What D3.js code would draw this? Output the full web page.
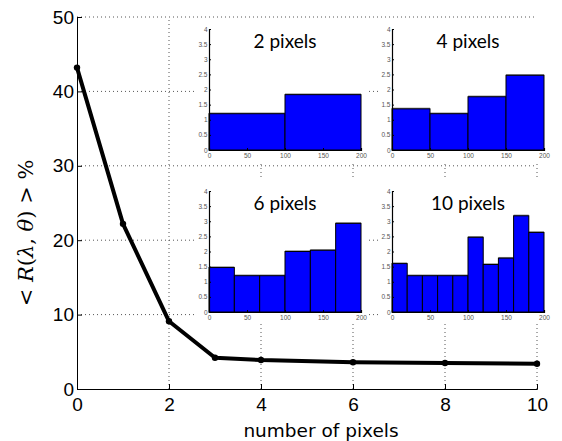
<!DOCTYPE html>
<html>
<head>
<meta charset="utf-8">
<script src="https://cdn.jsdelivr.net/npm/d3@7"></script>
<style>
  body { margin: 0; background: #fff; }
  svg { display: block; }
  .main-tick text { font-family: "Liberation Sans", Arial, sans-serif; font-size: 19px; fill: #000; }
  .inset-tick text { font-family: "Liberation Sans", Arial, sans-serif; font-size: 6.5px; fill: #555; }
</style>
</head>
<body>
<svg id="chart" width="562" height="441"></svg>
<script>
// main curve
var pixelCounts = [0, 1, 2, 3, 4, 6, 8, 10];
var meanR = [43.2, 22.2, 9.1, 4.2, 3.9, 3.6, 3.5, 3.4];
var xTicks = [0, 2, 4, 6, 8, 10];
var yTicks = [0, 10, 20, 30, 40, 50];

// inset histograms (range 0..200)
var hist2 = [1.2, 1.83];
var hist4 = [1.36, 1.2, 1.76, 2.47];
var hist6 = [1.47, 1.2, 1.2, 2.0, 2.04, 2.93];
var hist10 = [1.6, 1.2, 1.2, 1.2, 1.2, 2.47, 1.57, 1.78, 3.18, 2.63];
var insetTitles = ["2 pixels", "4 pixels", "6 pixels", "10 pixels"];
var insetXTicks = [0, 50, 100, 150, 200];
var insetYTicks = [0, 0.5, 1, 1.5, 2, 2.5, 3, 3.5, 4];

var svg = d3.select("#chart");

var x = d3.scaleLinear().domain([0, 10]).range([77, 537]);
var y = d3.scaleLinear().domain([0, 50]).range([389, 17]);

// dotted grid
var grid = svg.append("g").attr("class", "grid");
grid.selectAll(".gx")
  .data(xTicks.slice(1))
  .enter().append("line")
  .attr("x1", d => x(d)).attr("x2", d => x(d))
  .attr("y1", y(0)).attr("y2", y(50))
  .attr("stroke", "#555").attr("stroke-width", 1)
  .attr("stroke-dasharray", "1,3");
grid.selectAll(".gy")
  .data(yTicks.slice(1))
  .enter().append("line")
  .attr("x1", x(0)).attr("x2", x(10))
  .attr("y1", d => y(d)).attr("y2", d => y(d))
  .attr("stroke", "#555").attr("stroke-width", 1)
  .attr("stroke-dasharray", "1,3");

// axes
var xAxis = d3.axisBottom(x).tickValues(xTicks).tickFormat(d3.format("d")).tickSize(-5).tickPadding(9);
svg.append("g")
  .attr("class", "main-tick")
  .attr("transform", "translate(0," + y(0) + ")")
  .call(xAxis)
  .call(g => g.select(".domain").attr("stroke", "#000"));

var yAxis = d3.axisLeft(y).tickValues(yTicks).tickFormat(d3.format("d")).tickSize(-5).tickPadding(3);
svg.append("g")
  .attr("class", "main-tick")
  .attr("transform", "translate(" + x(0) + ",0)")
  .call(yAxis)
  .call(g => g.select(".domain").attr("stroke", "#000"));

// main line
var pts = pixelCounts.map((p, i) => ({ n: p, r: meanR[i] }));
var valueline = d3.line()
  .x(d => x(d.n))
  .y(d => y(d.r));

svg.append("path")
  .datum(pts)
  .attr("d", valueline)
  .attr("fill", "none")
  .attr("stroke", "#000")
  .attr("stroke-width", 4)
  .attr("stroke-linejoin", "round");

svg.selectAll(".dot")
  .data(pts)
  .enter().append("circle")
  .attr("cx", d => x(d.n))
  .attr("cy", d => y(d.r))
  .attr("r", 3.2)
  .attr("fill", "#000");

// labels
svg.append("text")
  .attr("x", 321).attr("y", 437)
  .attr("text-anchor", "middle")
  .style("font-family", "'DejaVu Sans', sans-serif")
  .style("font-size", "18.5px")
  .text("number of pixels");

var ylab = svg.append("text")
  .attr("transform", "translate(33,233) rotate(-90)")
  .attr("text-anchor", "middle")
  .style("font-family", "'DejaVu Serif', 'Liberation Serif', serif")
  .style("font-size", "21px");
ylab.append("tspan").text("< ");
ylab.append("tspan").style("font-style", "italic").text("R");
ylab.append("tspan").text("(");
ylab.append("tspan").style("font-style", "italic").text("λ");
ylab.append("tspan").text(", ");
ylab.append("tspan").style("font-style", "italic").text("θ");
ylab.append("tspan").text(") > %");

// insets
var insets = [
  { data: hist2, left: 209, top: 29 },
  { data: hist4, left: 392, top: 29 },
  { data: hist6, left: 209, top: 191 },
  { data: hist10, left: 392, top: 191 }
];
var iw = 152, ih = 121;

insets.forEach(function (inset, k) {
  var g = svg.append("g").attr("transform", "translate(" + inset.left + "," + inset.top + ")");

  g.append("rect")
    .attr("x", -14).attr("y", -11)
    .attr("width", iw + 22).attr("height", ih + 23)
    .attr("fill", "#fff");

  var ix = d3.scaleLinear().domain([0, 200]).range([0, iw]);
  var iy = d3.scaleLinear().domain([0, 4]).range([ih, 0]);
  var binW = 200 / inset.data.length;

  // bar shadow on top edge
  g.selectAll(".shadow")
    .data(inset.data)
    .enter().append("rect")
    .attr("x", (d, i) => ix(i * binW))
    .attr("y", d => iy(d) - 1.2)
    .attr("width", ix(binW) - ix(0))
    .attr("height", d => ih - iy(d) + 1.2)
    .attr("fill", "#888");

  g.selectAll(".bar")
    .data(inset.data)
    .enter().append("rect")
    .attr("x", (d, i) => ix(i * binW))
    .attr("y", d => iy(d))
    .attr("width", ix(binW) - ix(0))
    .attr("height", d => ih - iy(d))
    .attr("fill", "#0000ff")
    .attr("stroke", "#000")
    .attr("stroke-width", 1);

  g.append("g")
    .attr("class", "inset-tick")
    .attr("transform", "translate(0," + ih + ")")
    .call(d3.axisBottom(ix).tickValues(insetXTicks).tickSize(-2).tickPadding(3))
    .call(a => a.select(".domain").attr("stroke", "#000").attr("stroke-width", 1.2));

  g.append("g")
    .attr("class", "inset-tick")
    .call(d3.axisLeft(iy).tickValues(insetYTicks).tickFormat(d3.format("")).tickSize(-2).tickPadding(1.5))
    .call(a => a.select(".domain").attr("stroke", "#000").attr("stroke-width", 1.2));

  g.append("text")
    .attr("x", iw / 2).attr("y", 19)
    .attr("text-anchor", "middle")
    .style("font-family", "Lato, 'Open Sans', sans-serif")
    .style("font-size", "19px")
    .text(insetTitles[k]);
});
</script>
</body>
</html>
